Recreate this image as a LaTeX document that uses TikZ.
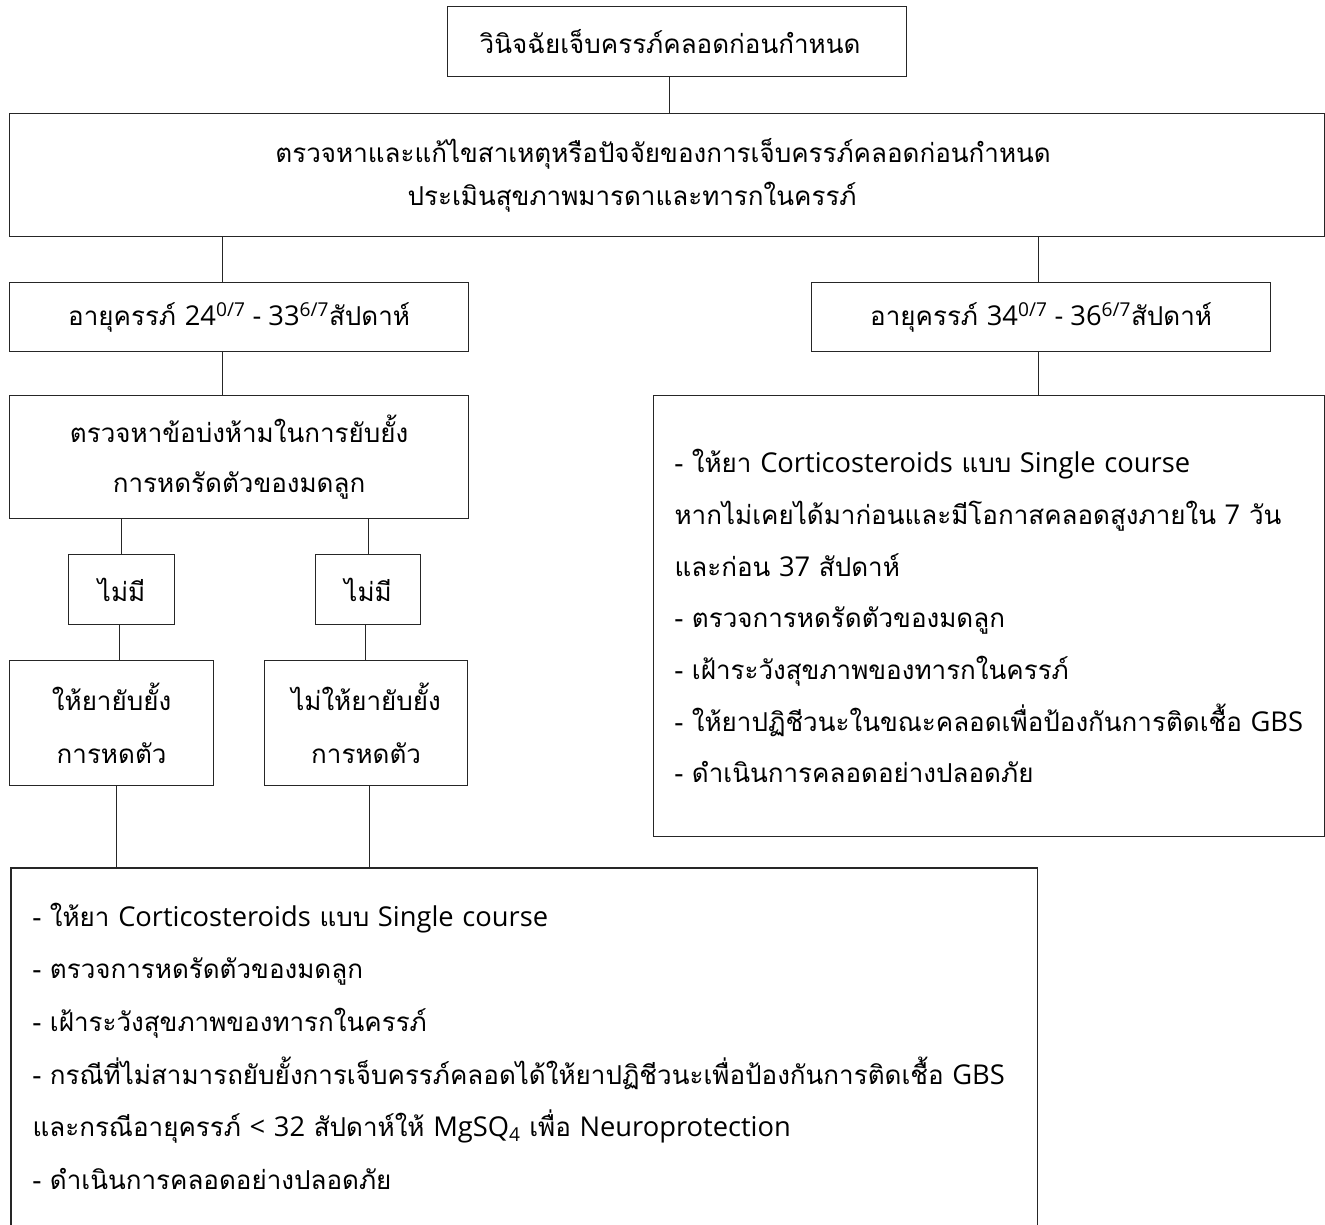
\documentclass[tikz,border=0pt]{standalone}
\usepackage{fontspec}
\setmainfont[Script=Thai]{Loma}
\newfontfamily\latinf[Scale=1.05]{Open Sans}
\newcommand\lat[1]{{\latinf #1}}
\usetikzlibrary{calc}
\tikzset{
  box/.style={draw=black!85, line width=1.2pt, rectangle, inner sep=0pt, anchor=north west, align=center, font=\fontsize{26}{50}\selectfont},
  listbox/.style={box, align=left, font=\fontsize{26}{51.7}\selectfont},
  conn/.style={draw=black!85, line width=1.2pt},
}
\begin{document}
\begin{tikzpicture}[x=1pt,y=-1pt]
\useasboundingbox[fill=white] (0,0) rectangle (1325,1225);
% top
\node[box, minimum width=459, minimum height=70] (n1) at (447,6) {วินิจฉัยเจ็บครรภ์คลอดก่อนกำหนด\hspace*{14pt}};
\node[box, minimum width=1315, minimum height=123, font=\fontsize{26}{43}\selectfont] (n2) at (9,113)
  {ตรวจหาและแก้ไขสาเหตุหรือปัจจัยของการเจ็บครรภ์คลอดก่อนกำหนด\hspace*{8pt}\\ประเมินสุขภาพมารดาและทารกในครรภ์\hspace*{70pt}};
% age boxes
\node[box, minimum width=459, minimum height=69] (n3l) at (9,282) {อายุครรภ์ \lat{24\textsuperscript{0/7} - 33\textsuperscript{6/7}}สัปดาห์};
\node[box, minimum width=459, minimum height=69] (n3r) at (811,282) {อายุครรภ์ \lat{34\textsuperscript{0/7} - 36\textsuperscript{6/7}}สัปดาห์};
% left branch
\node[box, minimum width=459, minimum height=123] (n4) at (9,395) {ตรวจหาข้อบ่งห้ามในการยับยั้ง\\การหดรัดตัวของมดลูก};
\node[box, minimum width=106, minimum height=70] (n5l) at (68,554) {ไม่มี};
\node[box, minimum width=105, minimum height=70] (n5r) at (315,554) {ไม่มี};
\node[box, minimum width=204, minimum height=125, font=\fontsize{26}{53}\selectfont] (n7l) at (9,660) {ให้ยายับยั้ง\\การหดตัว};
\node[box, minimum width=203, minimum height=125, font=\fontsize{26}{53}\selectfont] (n7r) at (264,660) {ไม่ให้ยายับยั้ง\\การหดตัว};
% right big box
\node[listbox, minimum width=671, minimum height=441, text width=629] (n6) at (653,395)
  {- ให้ยา \lat{Corticosteroids} แบบ \lat{Single course}\\
   หากไม่เคยได้มาก่อนและมีโอกาสคลอดสูงภายใน \lat{7} วัน\\
   และก่อน \lat{37} สัปดาห์\\
   - ตรวจการหดรัดตัวของมดลูก\\
   - เฝ้าระวังสุขภาพของทารกในครรภ์\\
   - ให้ยาปฏิชีวนะในขณะคลอดเพื่อป้องกันการติดเชื้อ \lat{GBS}\\
   - ดำเนินการคลอดอย่างปลอดภัย};
% bottom open box
\node[listbox, draw=none, minimum width=1025, minimum height=355, text width=983, font=\fontsize{26}{52.6}\selectfont] (bot) at (11,868)
  {- ให้ยา \lat{Corticosteroids} แบบ \lat{Single course}\\
   - ตรวจการหดรัดตัวของมดลูก\\
   - เฝ้าระวังสุขภาพของทารกในครรภ์\\
   - กรณีที่ไม่สามารถยับยั้งการเจ็บครรภ์คลอดได้ให้ยาปฏิชีวนะเพื่อป้องกันการติดเชื้อ \lat{GBS}\\
   และกรณีอายุครรภ์ \lat{< 32} สัปดาห์ให้ \lat{MgSQ\textsubscript{4}} เพื่อ \lat{Neuroprotection}\\
   - ดำเนินการคลอดอย่างปลอดภัย};
\draw[conn] ([yshift=-10pt]bot.south west) -- (bot.north west) -- (bot.north east) -- ([yshift=-10pt]bot.south east);
% connectors
\draw[conn] ([xshift=-7.5pt]n1.south) -- ([xshift=-7.5pt]n1.south |- n2.north);
\draw[conn] ([xshift=-16.5pt]n3l.north) -- ([xshift=-16.5pt]n3l.north |- n2.south);
\draw[conn] ([xshift=-2.5pt]n3r.north) -- ([xshift=-2.5pt]n3r.north |- n2.south);
\draw[conn] ([xshift=-16.5pt]n3l.south) -- ([xshift=-16.5pt]n3l.south |- n4.north);
\draw[conn] ([xshift=-2.5pt]n3r.south) -- ([xshift=-2.5pt]n3r.south |- n6.north);
\draw[conn] (n5l.north) -- (n5l.north |- n4.south);
\draw[conn] (n5r.north) -- (n5r.north |- n4.south);
\draw[conn] ([xshift=-2pt]n5l.south) -- ([xshift=-2pt]n5l.south |- n7l.north);
\draw[conn] ([xshift=-2.5pt]n5r.south) -- ([xshift=-2.5pt]n5r.south |- n7r.north);
\draw[conn] ([xshift=5pt]n7l.south) -- ([xshift=5pt]n7l.south |- bot.north);
\draw[conn] ([xshift=3.5pt]n7r.south) -- ([xshift=3.5pt]n7r.south |- bot.north);
\end{tikzpicture}
\end{document}
